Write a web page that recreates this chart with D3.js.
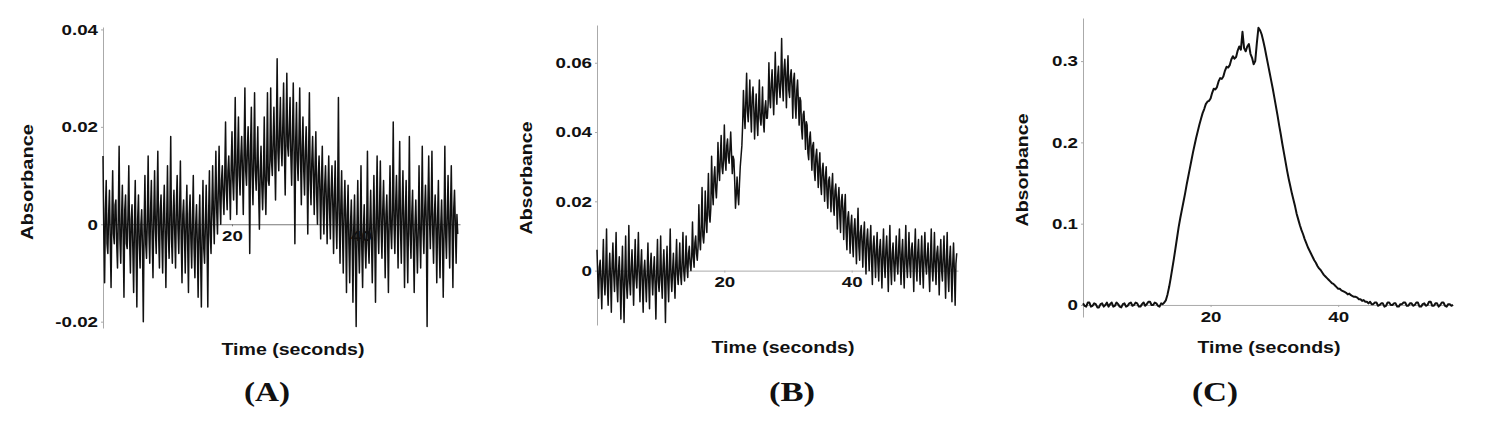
<!DOCTYPE html>
<html>
<head>
<meta charset="utf-8">
<script src="https://cdn.jsdelivr.net/npm/d3@7"></script>
<style>
  body { margin: 0; background: #fff; }
  svg text { font-family: "Liberation Sans", Arial, sans-serif; font-weight: bold; fill: #111; }
  .panel-label { font-family: "Liberation Serif", "Times New Roman", serif; }
</style>
</head>
<body>
<svg id="chart" width="1493" height="426"></svg>
<script>
var aStep = 0.125;
var aTrace = [
  14,-2,-12,3,9,-4,-6,2, 7,-3,-13,1,11,-2,-4,4, 5,-4,-9,2,16,-3,-8,1, 8,-2,-15,3,6,-4,-5,2,
  12,-3,-10,1,4,-5,-14,0, 9,-5,-17,1,6,-4,-9,0, 3,-5,-20,0,10,-4,-7,1, 14,-2,-8,3,9,-3,-11,2,
  11,-1,-6,4,15,-2,-9,3, 6,-3,-10,2,8,-2,-13,1, 12,-2,-7,3,18,-3,-8,2, 7,-2,-9,4,10,-1,-6,3,
  13,-3,-12,2,5,-2,-10,1, 8,-4,-14,2,6,-3,-9,1, 10,-5,-11,0,4,-4,-15,-1, 6,-6,-17,-1,9,-5,-8,0,
  8,-3,-17,2,11,-2,-6,3, 12,2,-4,6,15,3,-2,7, 16,5,0,9,12,6,2,10, 21,7,3,11,14,8,1,12,
  19,9,5,13,26,10,2,14, 22,10,6,14,18,11,2,15, 28,11,8,15,20,12,-6,16, 24,10,4,14,27,11,7,13,
  20,7,-1,11,16,8,3,10, 22,8,2,12,27,9,8,13, 28,13,10,17,24,14,5,18, 34,15,11,19,26,16,12,20,
  29,15,6,19,31,16,14,20, 26,14,8,18,29,15,-4,17, 25,13,9,17,28,14,4,16, 22,11,6,15,20,12,-2,14,
  27,9,4,13,18,10,2,12, 19,6,0,10,14,7,-3,9, 16,4,-2,8,12,5,-4,7, 14,3,-3,7,12,4,-6,6,
  13,1,-5,5,26,2,-8,4, 11,-1,-10,3,9,0,-14,2, 8,-4,-12,0,5,-3,-16,-1, 6,-5,-21,-1,9,-4,-10,-2,
  12,-5,-13,-1,4,-4,-9,-2, 15,-4,-8,0,7,-3,-12,-1, 10,-2,-16,2,14,-1,-6,3, 13,-1,-7,3,9,0,-11,2,
  6,-2,-14,2,12,-1,-5,3, 21,0,-6,4,10,1,-9,5, 17,-1,-8,3,11,0,-13,2, 9,-3,-12,1,18,-2,-7,2,
  7,-4,-14,0,5,-3,-10,-1, 12,-2,-9,2,16,-1,-6,3, 8,0,-21,4,14,1,-5,3, 15,-2,-8,2,6,-1,-12,1,
  9,-4,-11,0,5,-3,-15,-1, 16,-2,-7,2,10,-1,-9,3, 12,-1,-13,3,7,0,-8,2,
  -2
];

var bStep = 0.125;
var bTrace = [
  6,-2,-8,1,3,-3,-11,0, 9,-3,-7,0,12,-4,-10,-1, 5,-2,-12,2,8,-1,-6,1, 11,-4,-9,0,4,-3,-14,-1,
  7,-5,-15,-1,10,-4,-8,-2, 13,-3,-7,1,6,-2,-10,0, 9,-2,-5,2,11,-1,-9,1, 6,-4,-12,0,3,-3,-9,-1,
  8,-3,-11,1,5,-2,-7,0, 4,-4,-14,0,9,-3,-6,-1, 10,-3,-8,1,6,-2,-15,0, 7,-3,-9,1,12,-2,-6,0,
  5,-2,-8,2,9,-1,-4,1, 8,-1,-4,3,11,0,-3,2, 10,1,-2,5,7,2,0,4, 14,4,1,8,10,5,3,7,
  19,9,6,13,24,10,8,12, 23,15,11,19,28,16,14,18, 33,23,19,27,30,24,21,26, 37,29,26,33,39,30,28,32,
  42,32,29,36,38,33,31,35, 40,34,28,33,32,26,18,22, 27,22,19,25,30,33,36,42, 52,45,41,49,57,46,43,48,
  55,46,40,50,53,47,38,45, 51,43,39,47,55,44,42,46, 53,43,40,47,49,44,44,48, 60,50,47,54,58,51,45,53,
  63,52,48,56,59,53,50,55, 67,54,49,58,61,55,47,57, 62,52,50,56,58,53,44,55, 57,48,44,52,55,49,42,50,
  49,41,38,45,46,42,35,43, 42,34,32,38,40,35,29,36, 37,29,26,33,35,30,24,31, 34,25,22,29,31,26,20,27,
  30,22,18,26,27,23,17,24, 28,19,16,23,25,20,12,21, 24,16,11,20,22,17,9,18, 22,11,6,15,17,12,5,13,
  16,8,4,12,15,9,2,11, 18,7,3,11,13,8,1,10, 14,5,-1,9,12,6,0,8, 13,3,-4,7,10,4,-2,6,
  11,2,-3,6,9,3,-5,5, 12,2,-2,6,10,3,-6,5, 13,1,-4,5,8,2,-3,4, 10,2,-1,6,12,3,-4,5,
  9,1,-5,5,13,2,-2,4, 11,2,-2,6,8,3,-6,5, 12,1,-3,5,9,2,-4,4, 10,1,-5,5,11,2,-1,4,
  8,0,-6,4,12,1,-3,3, 11,1,-4,5,7,2,-7,4, 9,0,-3,4,10,1,-8,3, 11,-1,-6,3,7,0,-9,2,
  8,0,-10,2,5
];

var cStep = 0.25;
var cTrace = [
  2,-1,-2,3, 3,-2,-1,2, 1,-3,-3,1, 2,-2,0,3, -2,1,3,-2, -1,3,1,-2, -3,1,2,-2,
  -1,2,3,-1, 0,3,2,-2, -2,1,3,-1, 1,4,4,0, 0,3,2,-1, -2,2,1,3,
  6,13,22,33, 45,57,70,83, 96,107,117,127, 137,148,158,168, 178,188,197,206,
  214,222,229,236, 241,247,250,251, 254,261,266,265, 268,275,279,278, 281,288,293,292,
  295,302,306,303, 305,313,318,314, 336,316,312,318, 321,309,304,296, 300,322,341,338,
  333,325,316,306, 296,286,276,266, 255,244,233,221, 210,198,187,176, 165,155,146,137,
  129,121,112,105, 98,92,87,81, 76,71,67,63, 59,55,52,48, 45,43,40,37,
  35,33,31,29, 27,26,24,22, 20,20,18,17, 16,15,13,14, 12,11,10,10,
  9,7,7,5, 6,4,4,2, 4,1,1,3, 3,-1,0,2, 2,-2,-1,3, 3,0,0,2, 2,-2,-2,1,
  1,3,3,-1, -1,2,2,-1, 0,3,3,-2, -2,1,2,-1, 0,4,4,-1, -1,2,2,-2, 0,3,3,-1,
  -2,1,1,-1, 0
];

// tick values and labels
var xTickValues = [20, 40];
var aYTicks = [-0.02, 0, 0.02, 0.04];
var aYLabels = ['-0.02', '0', '0.02', '0.04'];
var bYTicks = [0, 0.02, 0.04, 0.06];
var bYLabels = ['0', '0.02', '0.04', '0.06'];
var cYTicks = [0, 0.1, 0.2, 0.3];
var cYLabels = ['0', '0.1', '0.2', '0.3'];
var panelNames = ['(A)', '(B)', '(C)'];

var panels = [
  { name: panelNames[0], trace: aTrace, step: aStep, yTicks: aYTicks, yLabels: aYLabels,
    xDomain: [0, 55.35], xRange: [103, 460], yDomain: [-0.0213, 0.0405], yRange: [328, 27],
    lineWidth: 1.5, axisColor: '#777', titleX: 293, titleY: 355, absX: 27, absY: 182, absLen: 116, nameX: 267 },
  { name: panelNames[1], trace: bTrace, step: bStep, yTicks: bYTicks, yLabels: bYLabels,
    xDomain: [0, 56.7], xRange: [597, 958], yDomain: [-0.0157, 0.0709], yRange: [325, 25],
    lineWidth: 1.5, axisColor: '#aaa', titleX: 783, titleY: 353, absX: 526, absY: 178, absLen: 113, nameX: 792 },
  { name: panelNames[2], trace: cTrace, step: cStep, yTicks: cYTicks, yLabels: cYLabels,
    xDomain: [0, 58], xRange: [1083, 1453], yDomain: [-0.0148, 0.353], yRange: [317, 18],
    lineWidth: 2, axisColor: '#aaa', titleX: 1269, titleY: 353, absX: 1022, absY: 170, absLen: 113, nameX: 1215 }
];

var svg = d3.select('#chart');

function styleAxis(sel, color) {
  sel.select('.domain').attr('stroke', color);
  sel.selectAll('.tick line').attr('stroke', color);
  sel.selectAll('.tick text')
    .attr('font-size', 15)
    .attr('fill', '#111')
    .attr('transform', 'scale(1.25,1)');
}

panels.forEach(function(p) {
  var g = svg.append('g');
  var x = d3.scaleLinear().domain(p.xDomain).range(p.xRange);
  var y = d3.scaleLinear().domain(p.yDomain).range(p.yRange);

  // x axis runs along the zero line, under the trace
  g.append('g')
    .attr('transform', 'translate(0,' + y(0) + ')')
    .call(d3.axisBottom(x).tickValues(xTickValues).tickFormat(function(d) { return d; })
      .tickSize(2).tickSizeOuter(0).tickPadding(4))
    .call(styleAxis, p.axisColor);

  g.append('g')
    .attr('transform', 'translate(' + x(0) + ',0)')
    .call(d3.axisLeft(y).tickValues(p.yTicks).tickFormat(function(d, i) { return p.yLabels[i]; })
      .tickSize(2).tickSizeOuter(0).tickPadding(2))
    .call(styleAxis, '#aaa');

  var line = d3.line()
    .x(function(d, i) { return x(i * p.step); })
    .y(function(d) { return y(d / 1000); });

  g.append('path')
    .datum(p.trace)
    .attr('d', line)
    .attr('fill', 'none')
    .attr('stroke', '#111')
    .attr('stroke-width', p.lineWidth)
    .attr('stroke-linejoin', 'round');

  g.append('text')
    .attr('x', p.titleX).attr('y', p.titleY)
    .attr('text-anchor', 'middle')
    .attr('font-size', 17)
    .attr('textLength', 143).attr('lengthAdjust', 'spacingAndGlyphs')
    .text('Time (seconds)');

  g.append('text')
    .attr('transform', 'translate(' + p.absX + ',' + p.absY + ') rotate(-90)')
    .attr('text-anchor', 'middle')
    .attr('dominant-baseline', 'central')
    .attr('font-size', 17)
    .attr('textLength', p.absLen).attr('lengthAdjust', 'spacingAndGlyphs')
    .text('Absorbance');

  g.append('text')
    .attr('class', 'panel-label')
    .attr('x', p.nameX).attr('y', 401)
    .attr('text-anchor', 'middle')
    .attr('font-size', 28)
    .attr('textLength', 46).attr('lengthAdjust', 'spacingAndGlyphs')
    .text(p.name);
});
</script>
</body>
</html>
